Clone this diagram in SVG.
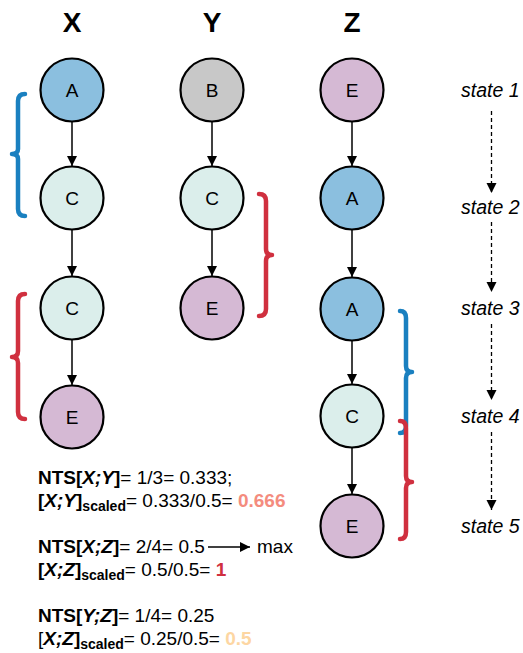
<svg xmlns="http://www.w3.org/2000/svg" width="523" height="653" viewBox="0 0 523 653">
<defs>
<marker id="ah" viewBox="0 0 10 12" refX="10" refY="6" markerWidth="10" markerHeight="12" markerUnits="userSpaceOnUse" orient="auto">
<path d="M0,1 L10,6 L0,11 Z" fill="#000"/>
</marker>
<marker id="ahs" viewBox="0 0 10 12" refX="10" refY="6" markerWidth="10" markerHeight="12" markerUnits="userSpaceOnUse" orient="auto">
<path d="M0,1 L10,6 L0,11 Z" fill="#000"/>
</marker>
</defs>
<style>
text{font-family:"Liberation Sans",Arial,sans-serif;fill:#000}
.hdr{font-size:28px;font-weight:bold;text-anchor:middle}
.lbl{font-size:19px;text-anchor:middle;dominant-baseline:central}
.st{font-size:19.5px;font-style:italic}
.nd{stroke:#000;stroke-width:2.2}
.A{fill:#8bbfdf}.B{fill:#c8c8c8}.C{fill:#dbeeeb}.E{fill:#d5b9d4}
.ed{stroke:#000;stroke-width:1.5;fill:none;marker-end:url(#ah)}
.ds{stroke:#000;stroke-width:1.3;fill:none;stroke-dasharray:4,3;marker-end:url(#ahs)}
.br{fill:none;stroke-width:4.5;stroke-linecap:round;stroke-linejoin:round}
.blue{stroke:#1a80c0}.red{stroke:#d0303f}
.f{font-size:19px}
.b{font-weight:bold}
.i{font-style:italic}
.sub{font-size:14px;font-weight:bold}
</style>
<g id="headers">
<text class="hdr" x="72" y="32">X</text>
<text class="hdr" x="212" y="32">Y</text>
<text class="hdr" x="352" y="32">Z</text>
</g>
<g id="connectors">
<line class="ed" x1="72" y1="122" x2="72" y2="166"/>
<line class="ed" x1="72" y1="230" x2="72" y2="276"/>
<line class="ed" x1="72" y1="340" x2="72" y2="385"/>
<line class="ed" x1="212" y1="122" x2="212" y2="166"/>
<line class="ed" x1="212" y1="230" x2="212" y2="276"/>
<line class="ed" x1="352" y1="122" x2="352" y2="166"/>
<line class="ed" x1="352" y1="230" x2="352" y2="277"/>
<line class="ed" x1="352" y1="341" x2="352" y2="384"/>
<line class="ed" x1="352" y1="448" x2="352" y2="494"/>
<line class="ds" x1="491.5" y1="111" x2="491.5" y2="193"/>
<line class="ds" x1="491.5" y1="222" x2="491.5" y2="292"/>
<line class="ds" x1="491.5" y1="324" x2="491.5" y2="400"/>
<line class="ds" x1="491.5" y1="432" x2="491.5" y2="510"/>
<line stroke="#000" stroke-width="1.5" x1="208" y1="547" x2="250" y2="547" marker-end="url(#ah)"/>
</g>
<g id="nodeXA"><circle class="nd A" cx="72" cy="90" r="31.5"/><text class="lbl" x="72" y="90">A</text></g>
<g id="nodeXC1"><circle class="nd C" cx="72" cy="198" r="31.5"/><text class="lbl" x="72" y="198">C</text></g>
<g id="nodeXC2"><circle class="nd C" cx="72" cy="308" r="31.5"/><text class="lbl" x="72" y="308">C</text></g>
<g id="nodeXE"><circle class="nd E" cx="72" cy="417" r="31.5"/><text class="lbl" x="72" y="417">E</text></g>
<g id="nodeYB"><circle class="nd B" cx="212" cy="90" r="31.5"/><text class="lbl" x="212" y="90">B</text></g>
<g id="nodeYC"><circle class="nd C" cx="212" cy="198" r="31.5"/><text class="lbl" x="212" y="198">C</text></g>
<g id="nodeYE"><circle class="nd E" cx="212" cy="308" r="31.5"/><text class="lbl" x="212" y="308">E</text></g>
<g id="nodeZE1"><circle class="nd E" cx="352" cy="90" r="31.5"/><text class="lbl" x="352" y="90">E</text></g>
<g id="nodeZA1"><circle class="nd A" cx="352" cy="198" r="31.5"/><text class="lbl" x="352" y="198">A</text></g>
<g id="nodeZA2"><circle class="nd A" cx="352" cy="309" r="31.5"/><text class="lbl" x="352" y="309">A</text></g>
<g id="nodeZC"><circle class="nd C" cx="352" cy="416" r="31.5"/><text class="lbl" x="352" y="416">C</text></g>
<g id="nodeZE2"><circle class="nd E" cx="352" cy="526" r="31.5"/><text class="lbl" x="352" y="526">E</text></g>
<g id="braces">
<path class="br blue" d="M25,94 Q18,94 18,101 L18,149 Q18,154 12,154 Q18,154 18,159 L18,209 Q18,216 25,216"/>
<path class="br red" d="M25,294 Q18,294 18,301 L18,351 Q18,357 12,357 Q18,357 18,363 L18,412 Q18,419 25,419"/>
<path class="br red" d="M259,194 Q266,194 266,201 L266,249 Q266,255 272,255 Q266,255 266,261 L266,309 Q266,316 259,316"/>
<path class="br blue" d="M400,311 Q406,311 406,318 L406,366 Q406,372 412,372 Q406,372 406,378 L406,426 Q406,433 400,433"/>
<path class="br red" d="M400,421 Q406,421 406,428 L406,476 Q406,482 412,482 Q406,482 406,488 L406,532 Q406,539 400,539"/>
</g>
<g id="states">
<text class="st" x="461" y="97">state 1</text>
<text class="st" x="461" y="214">state 2</text>
<text class="st" x="461" y="315">state 3</text>
<text class="st" x="461" y="423">state 4</text>
<text class="st" x="461" y="533">state 5</text>
</g>
<g id="formulas">
<text class="f" x="38" y="484"><tspan class="b">NTS[<tspan class="i">X;Y</tspan>]</tspan>= 1/3= 0.333;</text>
<text class="f" x="38" y="507"><tspan class="b">[<tspan class="i">X;Y</tspan>]</tspan><tspan class="sub" dy="4">scaled</tspan><tspan dy="-4">= 0.333/0.5= </tspan><tspan class="b" fill="#f48c7e">0.666</tspan></text>
<text class="f" x="38" y="553"><tspan class="b">NTS[<tspan class="i">X;Z</tspan>]</tspan>= 2/4= 0.5</text>
<text class="f" x="257" y="553">max</text>
<text class="f" x="38" y="576"><tspan class="b">[<tspan class="i">X;Z</tspan>]</tspan><tspan class="sub" dy="4">scaled</tspan><tspan dy="-4">= 0.5/0.5= </tspan><tspan class="b" fill="#d0303f">1</tspan></text>
<text class="f" x="38" y="622"><tspan class="b">NTS[<tspan class="i">Y;Z</tspan>]</tspan>= 1/4= 0.25</text>
<text class="f" x="38" y="645">[<tspan class="b i">X;Z</tspan><tspan class="b">]</tspan><tspan class="sub" dy="4">scaled</tspan><tspan dy="-4">= 0.25/0.5= </tspan><tspan class="b" fill="#fdd6a2">0.5</tspan></text>
</g>
</svg>
